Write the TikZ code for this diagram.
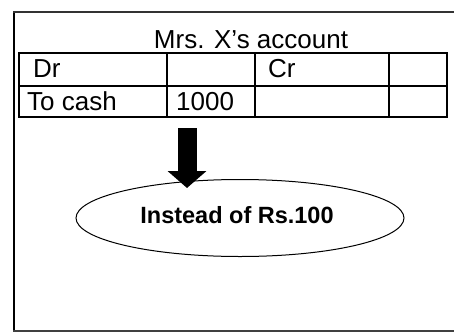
\documentclass[tikz,border=0pt]{standalone}
\usepackage{fontspec}
\setmainfont{Liberation Sans}
\usetikzlibrary{shapes.geometric,arrows.meta}
\begin{document}
\begin{tikzpicture}[x=1pt,y=-1pt,
  grid/.style={line width=2.4pt,black},
  cell/.style={anchor=base west,inner sep=0pt,font=\fontsize{26}{26}\selectfont},
  title/.style={anchor=base,inner sep=0pt,font=\fontsize{26}{26}\selectfont},
  oval/.style={draw,ellipse,line width=1pt,minimum width=328pt,minimum height=77pt,inner sep=0pt},
  bigarrow/.style={-{Triangle[length=17pt,width=38pt]},line width=19pt,shorten >=0pt}]
  \useasboundingbox (0,0) rectangle (454,332);
  \fill[white] (0,0) rectangle (454,332);
  % page frame
  \draw[line width=2.5pt] (14,12) -- (14,331);
  \draw[line width=1.5pt,black!80] (13,12) -- (454,12);
  \draw[line width=1.2pt,black!75] (13,331) -- (454,331);
  % account title
  \node[title] (t) at (251,48) {Mrs. X’s account};
  % ledger grid
  \draw[grid] (19,53) rectangle (447,117);
  \draw[grid] (19,86) -- (447,86);
  \foreach \x in {167,255,389} \draw[grid] (\x,53) -- (\x,117);
  \node[cell] (dr) at (33,77) {Dr};
  \node[cell] (cr) at (268,77) {Cr};
  \node[cell] (tc) at (27,110) {To cash};
  \node[cell] (amt) at (176,110) {1000};
  % note
  \node[oval] (e) at (240,218) {};
  \node[inner sep=0pt,anchor=base,font=\fontsize{23.5}{23.5}\selectfont\bfseries] (note) at (237,223) {Instead of Rs.100};
  \coordinate (a0) at (187,128);
  \coordinate (a1) at (187,188);
  \draw[bigarrow] (a0) -- (a1);
\end{tikzpicture}
\end{document}
